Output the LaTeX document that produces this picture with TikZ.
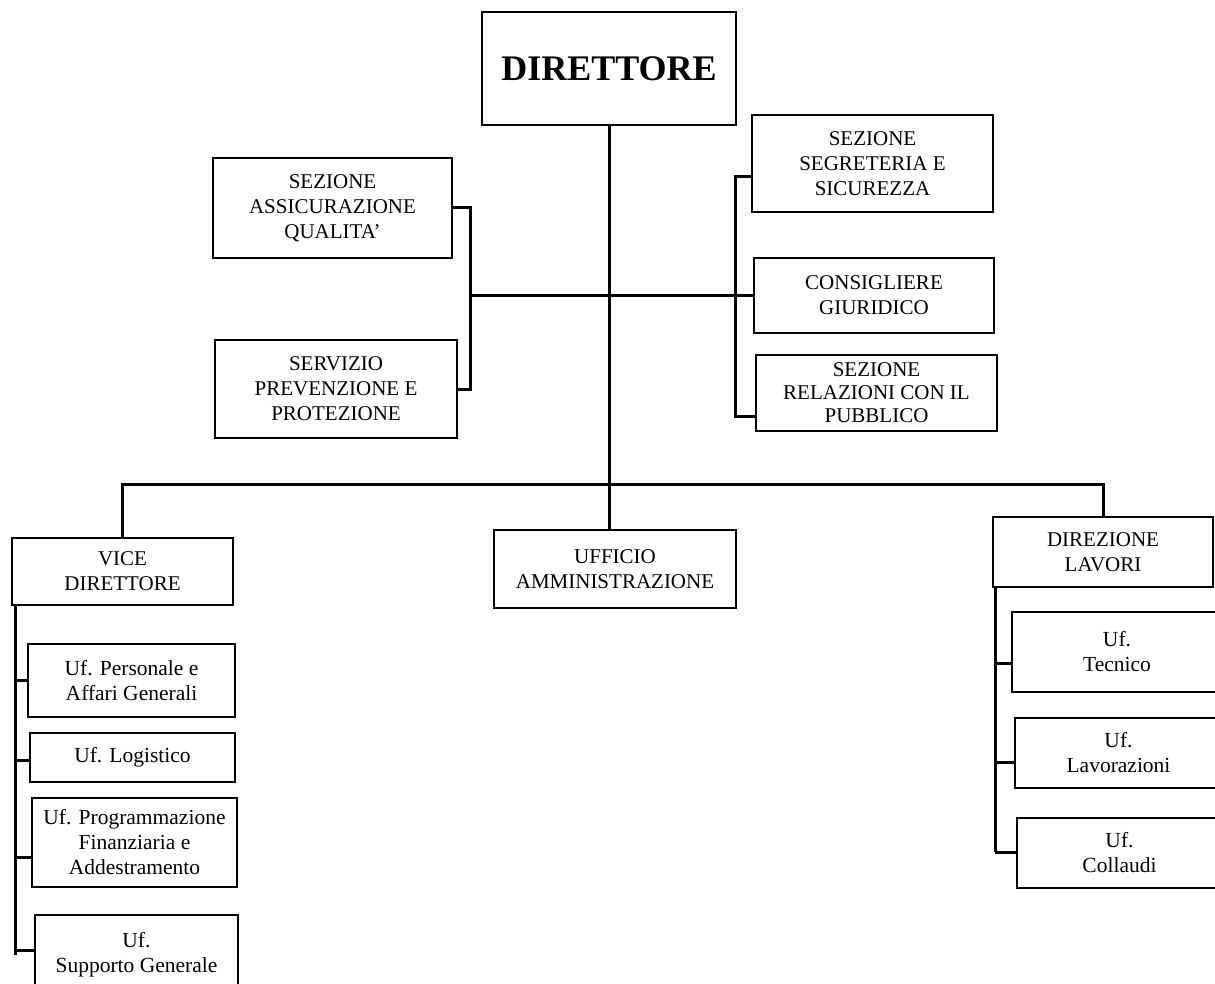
\documentclass[tikz,border=0pt]{standalone}
\usepackage{fontspec}
\setmainfont{Liberation Serif}
\usetikzlibrary{calc}
\begin{document}
\begin{tikzpicture}[x=1pt,y=-1pt,
  box/.style={draw=black, line width=2pt, fill=white, align=center, inner sep=0pt, outer sep=0pt,
    font=\fontsize{21}{25}\selectfont},
  ufbox/.style={box, font=\fontsize{21.5}{25}\selectfont},
  conn/.style={draw=black, line width=3pt}]
\useasboundingbox (0,0) rectangle (1215,984);
\clip (0,0) rectangle (1215,984);
\fill[white] (0,0) rectangle (1215,984);
% top
\node[box, minimum width=254pt, minimum height=113pt, font=\fontsize{36}{40}\selectfont\bfseries] (dir) at (609,68.5) {DIRETTORE};
% staff left
\node[box, minimum width=239pt, minimum height=100pt] (saq) at (332.5,208) {SEZIONE\\ASSICURAZIONE\\QUALITA'};
\node[box, minimum width=242pt, minimum height=98pt] (spp) at (336,389) {SERVIZIO\\PREVENZIONE E\\PROTEZIONE};
% staff right
\node[box, minimum width=241pt, minimum height=97pt] (ssg) at (872.5,163.5) {SEZIONE\\SEGRETERIA E\\SICUREZZA};
\node[box, minimum width=240pt, minimum height=75pt] (cgi) at (874,295.5) {CONSIGLIERE\\GIURIDICO};
\node[box, minimum width=241pt, minimum height=76pt, font=\fontsize{21}{23}\selectfont] (srp) at (876.5,393) {SEZIONE\\RELAZIONI CON IL\\PUBBLICO};
% second level
\node[box, minimum width=221pt, minimum height=67pt] (vice) at (122.5,571.5) {VICE\\DIRETTORE};
\node[box, minimum width=242pt, minimum height=78pt] (uff) at (615,569) {UFFICIO\\AMMINISTRAZIONE};
\node[box, minimum width=220pt, minimum height=70pt] (dl) at (1103,552) {DIREZIONE\\LAVORI};
% left offices
\node[ufbox, minimum width=207pt, minimum height=73pt] (up) at (131.5,680.5) {Uf. Personale e\\Affari Generali};
\node[ufbox, minimum width=205pt, minimum height=49pt] (ul) at (132.5,757.5) {Uf. Logistico};
\node[ufbox, minimum width=205pt, minimum height=89pt] (upf) at (134.5,842.5) {Uf. Programmazione\\Finanziaria e\\Addestramento};
\node[ufbox, minimum width=203pt, minimum height=80pt] (usg) at (136.5,955) {Uf.\\Supporto Generale};
% right offices
\node[ufbox, minimum width=210pt, minimum height=80pt] (ut) at (1117,652) {Uf.\\Tecnico};
\node[ufbox, minimum width=207pt, minimum height=70pt] (ulav) at (1118.5,753) {Uf.\\Lavorazioni};
\node[ufbox, minimum width=205pt, minimum height=70pt] (ucol) at (1119.5,853) {Uf.\\Collaudi};
% coordinates
\coordinate (lb) at (470,295.5);
\coordinate (rb) at (735,295.5);
\coordinate (bus) at (609,484);
\coordinate (lv) at (15,605);
\coordinate (rv) at (995,587);
% connectors
\draw[conn] (dir.south) -- (dir.south |- uff.north);
\draw[conn] (saq.east) -- (saq.east -| lb) -- (spp.east -| lb) -- (spp.east);
\draw[conn] (lb) -- (cgi.west);
\draw[conn] ($(ssg.south west)+(0,-35)$) -| (rb) |- ($(srp.south west)+(0,-15)$);
\draw[conn] (vice.north) -- (vice.north |- bus) -- (dl.north |- bus) -- (dl.north);
\draw[conn] (lv) -- (lv |- usg.west);
\draw[conn] (lv |- up.west) -- (up.west);
\draw[conn] ($(lv |- ul.west)+(0,2.5)$) -- ($(ul.west)+(0,2.5)$);
\draw[conn] ($(lv |- upf.west)+(0,14.5)$) -- ($(upf.west)+(0,14.5)$);
\draw[conn] ($(lv |- usg.west)+(0,-5)$) -- ($(usg.west)+(0,-5)$);
\draw[conn] (rv) -- ($(rv |- ucol.west)+(0,-1)$);
\draw[conn] ($(rv |- ut.west)+(0,11)$) -- ($(ut.west)+(0,11)$);
\draw[conn] ($(rv |- ulav.west)+(0,9)$) -- ($(ulav.west)+(0,9)$);
\draw[conn] ($(rv |- ucol.west)+(0,-1)$) -- ($(ucol.west)+(0,-1)$);
\end{tikzpicture}
\end{document}
